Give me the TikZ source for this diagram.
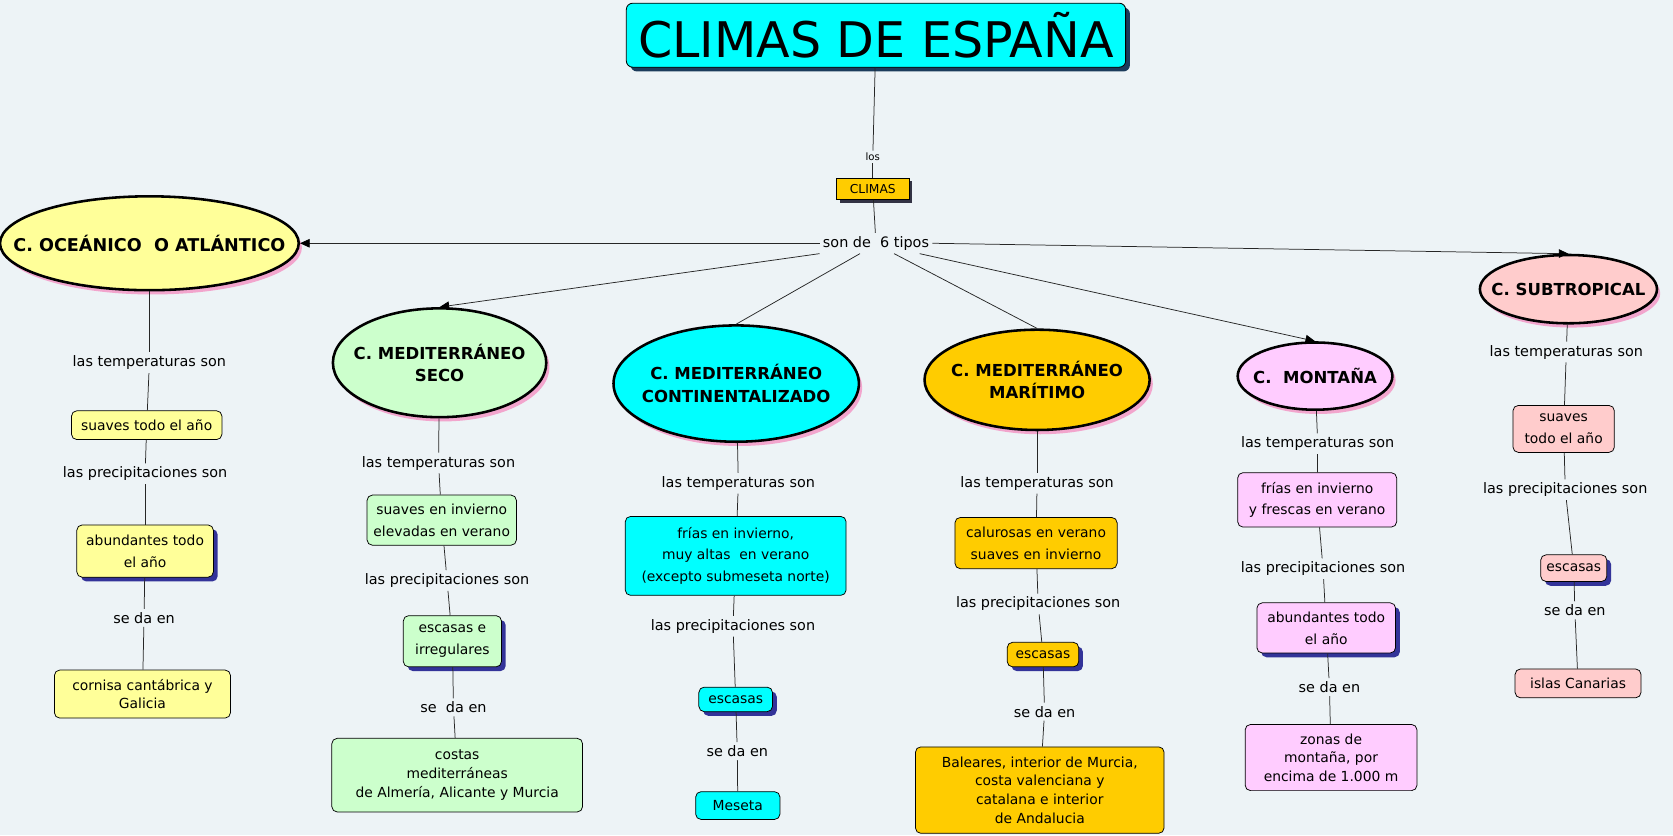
\documentclass[tikz,border=0pt]{standalone}
\usepackage{fontspec}
\setmainfont{DejaVu Sans}
\usetikzlibrary{shapes.geometric,shadows,arrows.meta}
\definecolor{bg}{HTML}{EDF3F6}
\definecolor{cyanc}{HTML}{00FFFF}
\definecolor{yelc}{HTML}{FFFF99}
\definecolor{grnc}{HTML}{CCFFCC}
\definecolor{orac}{HTML}{FFCC00}
\definecolor{pnkc}{HTML}{FFCCFF}
\definecolor{salc}{HTML}{FFCCCC}
\definecolor{pinksh}{HTML}{F2A5CD}
\definecolor{navysh}{HTML}{333399}
\definecolor{titlesh}{HTML}{1B3B5B}
\definecolor{darksh}{HTML}{333344}
\begin{document}
\begin{tikzpicture}[x=1pt,y=-1pt,
  ell/.style={ellipse, draw=black, line width=2.4pt, inner sep=0pt,
    drop shadow={shadow xshift=3pt, shadow yshift=-4pt, fill=pinksh, opacity=1}},
  etext/.style={font=\fontsize{15.5}{21}\selectfont\bfseries, align=center, inner sep=0pt},
  box/.style={rectangle, rounded corners=5pt, draw=black, line width=0.7pt, align=center,
    inner sep=2pt, font=\fontsize{13}{20.5}\selectfont},
  vbox/.style={box, font=\fontsize{13}{17.5}\selectfont},
  sbox/.style={box, drop shadow={shadow xshift=4pt, shadow yshift=-4pt, fill=navysh, opacity=1}},
  lab/.style={font=\fontsize{13.5}{16}\selectfont, inner sep=3pt},
  conn/.style={draw=black!85, line width=0.7pt},
  arr/.style={conn, -{Triangle[length=9pt,width=8pt,fill=black,color=black]}}
]
\fill[bg] (0,0) rectangle (1568,783);
\useasboundingbox (0,0) rectangle (1568,783);

% title
\node[rectangle, rounded corners=6pt, draw=black, line width=0.8pt, fill=cyanc,
  minimum width=468pt, minimum height=60pt, font=\fontsize{46}{50}\selectfont,
  drop shadow={shadow xshift=4pt, shadow yshift=-4pt, fill=titlesh, opacity=1}]
  (title) at (821,33) {CLIMAS DE ESPAÑA};
\node[lab, font=\fontsize{9.5}{11}\selectfont, inner sep=2pt] (los) at (818,147) {los};
\node[rectangle, draw=black, line width=0.7pt, fill=orac, minimum width=68pt, minimum height=20pt,
  inner sep=1pt, font=\fontsize{11.5}{13}\selectfont,
  drop shadow={shadow xshift=3pt, shadow yshift=-3pt, fill=darksh, opacity=1}]
  (climas) at (818,177) {CLIMAS};
\node[lab] (son) at (821,228) {son de\ \ 6 tipos};

% ellipses
\node[ell, fill=yelc, minimum width=280pt, minimum height=88pt] (oce) at (140,228) {};
\node[etext, font=\fontsize{16.5}{21}\selectfont\bfseries] (oceT) at (oce) {C. OCEÁNICO\ \ O ATLÁNTICO};
\node[ell, fill=grnc, minimum width=200pt, minimum height=102pt] (seco) at (412,340) {};
\node[etext] (secoT) at (seco) {C. MEDITERRÁNEO\\SECO};
\node[ell, fill=cyanc, minimum width=230pt, minimum height=109pt] (cont) at (690,359.5) {};
\node[etext] (contT) at (cont) {C. MEDITERRÁNEO\\CONTINENTALIZADO};
\node[ell, fill=orac, minimum width=211pt, minimum height=94pt] (mar) at (972,356) {};
\node[etext] (marT) at (mar) {C. MEDITERRÁNEO\\MARÍTIMO};
\node[ell, fill=pnkc, minimum width=145pt, minimum height=63pt] (mon) at (1232.5,352.5) {};
\node[etext] (monT) at (mon) {C.\ \ MONTAÑA};
\node[ell, fill=salc, minimum width=166pt, minimum height=64pt] (sub) at (1470,271) {};
\node[etext] (subT) at (sub) {C. SUBTROPICAL};

% column 1
\node[lab] (l1a) at (140,340) {las temperaturas son};
\node[box, fill=yelc, minimum width=141pt, minimum height=27pt] (b1a) at (137.5,398.5) {suaves todo el año};
\node[lab] (l1b) at (136,444) {las precipitaciones son};
\node[sbox, fill=yelc, minimum width=128pt, minimum height=49pt] (b1b) at (136,516.5) {abundantes todo\\el año};
\node[lab] (l1c) at (135,579) {se da en};
\node[vbox, fill=yelc, minimum width=165pt, minimum height=45pt] (b1c) at (133.5,650.5) {cornisa cantábrica y\\Galicia};

% column 2
\node[lab] (l2a) at (411,434) {las temperaturas son};
\node[box, fill=grnc, minimum width=140pt, minimum height=47pt] (b2a) at (414,487.5) {suaves en invierno\\elevadas en verano};
\node[lab] (l2b) at (419,544) {las precipitaciones son};
\node[sbox, fill=grnc, minimum width=92pt, minimum height=48pt] (b2b) at (424,601) {escasas e\\irregulares};
\node[lab] (l2c) at (425,663) {se\ \ da en};
\node[vbox, fill=grnc, minimum width=235pt, minimum height=69pt] (b2c) at (428.5,726.5) {costas\\mediterráneas\\de Almería, Alicante y Murcia};

% column 3
\node[lab] (l3a) at (692,453) {las temperaturas son};
\node[box, fill=cyanc, minimum width=207pt, minimum height=74pt] (b3a) at (689.5,521) {frías en invierno,\\muy altas\ \ en verano\\(excepto submeseta norte)};
\node[lab] (l3b) at (687,587) {las precipitaciones son};
\node[sbox, fill=cyanc, minimum width=69pt, minimum height=23pt] (b3b) at (689.5,655.5) {escasas};
\node[lab] (l3c) at (691,704) {se da en};
\node[vbox, fill=cyanc, minimum width=79pt, minimum height=26pt] (b3c) at (691.5,755) {Meseta};

% column 4
\node[lab] (l4a) at (972,453) {las temperaturas son};
\node[box, fill=orac, minimum width=152pt, minimum height=48pt] (b4a) at (971,509) {calurosas en verano\\suaves en invierno};
\node[lab] (l4b) at (973,566) {las precipitaciones son};
\node[sbox, fill=orac, minimum width=67pt, minimum height=23pt] (b4b) at (977.5,613.5) {escasas};
\node[lab] (l4c) at (979,667) {se da en};
\node[vbox, fill=orac, minimum width=233pt, minimum height=81pt] (b4c) at (974.5,740.5) {Baleares, interior de Murcia,\\costa valenciana y\\catalana e interior\\de Andalucia};

% column 5
\node[lab] (l5a) at (1235,416) {las temperaturas son};
\node[box, fill=pnkc, minimum width=149pt, minimum height=51pt] (b5a) at (1234.5,468.5) {frías en invierno\\y frescas en verano};
\node[lab] (l5b) at (1240,533) {las precipitaciones son};
\node[sbox, fill=pnkc, minimum width=130pt, minimum height=47pt] (b5b) at (1243,588.5) {abundantes todo\\el año};
\node[lab] (l5c) at (1246,644) {se da en};
\node[vbox, fill=pnkc, minimum width=161pt, minimum height=62pt] (b5c) at (1247.5,710) {zonas de\\montaña, por\\encima de 1.000 m};

% column 6
\node[lab] (l6a) at (1468,330) {las temperaturas son};
\node[box, fill=salc, minimum width=95pt, minimum height=44pt] (b6a) at (1465.5,402) {suaves\\todo el año};
\node[lab] (l6b) at (1467,459) {las precipitaciones son};
\node[sbox, fill=salc, minimum width=62pt, minimum height=25pt] (b6b) at (1475,532.5) {escasas};
\node[lab] (l6c) at (1476,572) {se da en};
\node[vbox, fill=salc, minimum width=118pt, minimum height=27pt] (b6c) at (1479,640.5) {islas Canarias};

% top connectors
\draw[conn] (title) -- (los);
\draw[conn] (los) -- (climas);
\draw[conn] (climas) -- (son);
\draw[arr] (son.west) -- (oce.east);
\draw[arr] (son.south west) -- (seco.north);
\draw[conn] ([xshift=-15pt]son.south) -- (cont.north);
\draw[conn] ([xshift=17pt]son.south) -- (mar.north);
\draw[arr] ([xshift=-12pt]son.south east) -- (mon.north);
\draw[arr] (son.east) -- (sub.north);

% column connectors
\foreach \e/\a/\b/\c/\d/\f/\g in {oce/l1a/b1a/l1b/b1b/l1c/b1c, seco/l2a/b2a/l2b/b2b/l2c/b2c,
  cont/l3a/b3a/l3b/b3b/l3c/b3c, mar/l4a/b4a/l4b/b4b/l4c/b4c,
  mon/l5a/b5a/l5b/b5b/l5c/b5c, sub/l6a/b6a/l6b/b6b/l6c/b6c}{
  \draw[conn] (\e) -- (\a);
  \draw[conn] (\a) -- (\b);
  \draw[conn] (\b) -- (\c);
  \draw[conn] (\c) -- (\d);
  \draw[conn] (\d) -- (\f);
  \draw[conn] (\f) -- (\g);
}
\end{tikzpicture}
\end{document}
